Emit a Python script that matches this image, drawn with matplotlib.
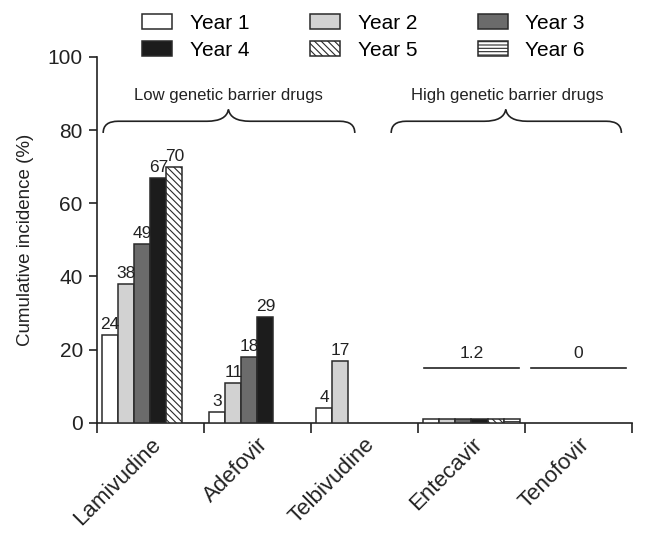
import numpy as np
import matplotlib.pyplot as plt
from matplotlib.patches import Patch, PathPatch
from matplotlib.path import Path

plt.rcParams['font.family'] = ['Liberation Sans', 'DejaVu Sans']
plt.rcParams['hatch.linewidth'] = 0.8

# data
drugs = ["Lamivudine", "Adefovir", "Telbivudine", "Entecavir", "Tenofovir"]
years = ["Year 1", "Year 2", "Year 3", "Year 4", "Year 5", "Year 6"]
lamivudine = [24, 38, 49, 67, 70]
adefovir = [3, 11, 18, 29]
telbivudine = [4, 17]
entecavir = [1.2, 1.2, 1.2, 1.2, 1.2, 1.2]
tenofovir = []
summary_labels = {"Entecavir": "1.2", "Tenofovir": "0"}
series = [lamivudine, adefovir, telbivudine, entecavir, tenofovir]

colors = ["white", "#d2d2d2", "#6b6b6b", "#1c1c1c", "white", "white"]
hatches = [None, None, None, None, "\\\\\\\\\\", "-----"]
edge = "#2a2a2a"

fig = plt.figure(figsize=(6.45, 5.36), dpi=100)
ax = fig.add_axes([0.150, 0.211, 0.830, 0.683])

w = 0.15
offsets = (np.arange(6) - 2.5) * w
for k, vals in enumerate(series):
    for i, v in enumerate(vals):
        ax.bar(k + offsets[i], v, width=w, color=colors[i], hatch=hatches[i],
               edgecolor=edge, linewidth=1.1, zorder=3)
    # number on top of bars (only where each bar is labelled)
    if drugs[k] not in summary_labels:
        for i, v in enumerate(vals):
            ax.text(k + offsets[i], v + 0.8, f"{v:g}", ha="center", va="bottom",
                    fontsize=12.5, color="#222222")

# summary lines for high genetic barrier drugs
for name, lab in summary_labels.items():
    k = drugs.index(name)
    ax.plot([k - 0.44, k + 0.44], [15, 15], color="#222222", lw=1.2, clip_on=False)
    ax.text(k, 16.8, lab, ha="center", va="bottom", fontsize=12.5, color="#222222")


def brace(ax, x0, x1, xp, ybot, ymid, ytop):
    dx = 0.14
    dp = 0.2
    verts = [(x0, ybot), (x0, ymid), (x0 + dx, ymid),
             (xp - dp, ymid),
             (xp - 0.02, ymid), (xp, ytop),
             (xp + 0.02, ymid), (xp + dp, ymid),
             (x1 - dx, ymid),
             (x1, ymid), (x1, ybot)]
    codes = [Path.MOVETO, Path.CURVE3, Path.CURVE3,
             Path.LINETO,
             Path.CURVE3, Path.CURVE3,
             Path.CURVE3, Path.CURVE3,
             Path.LINETO,
             Path.CURVE3, Path.CURVE3]
    ax.add_patch(PathPatch(Path(verts, codes), facecolor="none", edgecolor="#222222",
                           lw=1.2, clip_on=False))


brace(ax, -0.44, 1.91, 0.73, 79.2, 82.4, 85.6)
brace(ax, 2.25, 4.40, 3.32, 79.2, 82.4, 85.6)
ax.text(0.73, 87.4, "Low genetic barrier drugs", ha="center", va="bottom",
        fontsize=12, color="#222222")
ax.text(3.33, 87.4, "High genetic barrier drugs", ha="center", va="bottom",
        fontsize=12, color="#222222")

# axes
ax.set_xlim(-0.5, 4.5)
ax.set_ylim(0, 100)
ax.spines["top"].set_visible(False)
ax.spines["right"].set_visible(False)
for s in ["left", "bottom"]:
    ax.spines[s].set_linewidth(1.2)
    ax.spines[s].set_color("#222222")
ax.set_yticks(np.arange(0, 101, 20))
ax.tick_params(axis="y", direction="out", length=6, width=1.2, labelsize=15,
               colors="#222222", pad=4)
ax.set_xticks(np.arange(-0.5, 4.6, 1))
ax.set_xticklabels([])
ax.tick_params(axis="x", which="major", direction="out", length=7, width=1.2,
               colors="#222222")
ax.set_xticks(np.arange(5), minor=True)
ax.set_xticklabels(drugs, minor=True, rotation=45, ha="right",
                   rotation_mode="anchor", fontsize=16, color="#222222")
ax.tick_params(axis="x", which="minor", length=0, pad=8)
ax.set_ylabel("Cumulative incidence (%)", fontsize=13.5, color="#222222", labelpad=10)

# legend in row order
handles = [Patch(facecolor=colors[i], edgecolor=edge, hatch=hatches[i], linewidth=1.1)
           for i in range(6)]
order = [0, 3, 1, 4, 2, 5]
fig.legend([handles[i] for i in order], [years[i] for i in order], ncol=3,
           loc="upper left", bbox_to_anchor=(0.207, 0.990), frameon=False,
           fontsize=15, handlelength=1.45, handleheight=0.7, handletextpad=0.85,
           columnspacing=2.9, labelspacing=0.38, borderaxespad=0)

fig.savefig("out.png", dpi=100)
